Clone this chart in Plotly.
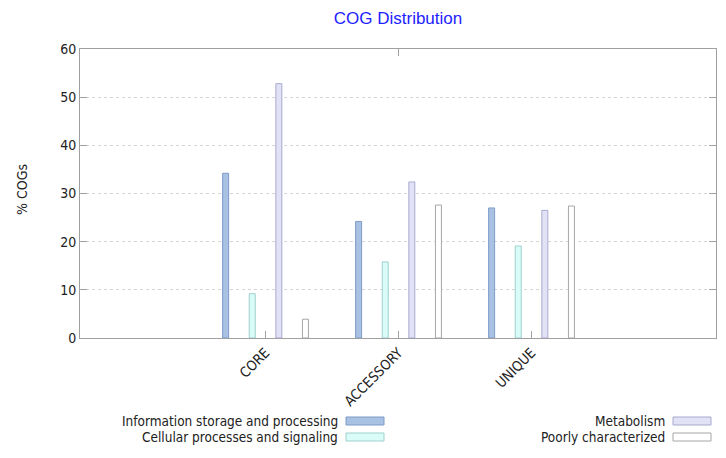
import plotly.graph_objects as go

categories = ["CORE", "ACCESSORY", "UNIQUE"]
series_names = ["Information storage and processing", "Cellular processes and signaling",
                "Metabolism", "Poorly characterized"]
info_vals = [34.2, 24.2, 27.0]
cell_vals = [9.2, 15.8, 19.1]
metab_vals = [52.8, 32.4, 26.5]
poor_vals = [3.9, 27.6, 27.4]
y_ticks = [0, 10, 20, 30, 40, 50, 60]

fills = ["#a9c1e3", "#d9fcf9", "#e2e2f6", "#ffffff"]
lines = ["#7d9bc8", "#9fd0cc", "#a9a9d0", "#a6a6a6"]
offsets = [-0.3, -0.1, 0.1, 0.3]
bw = 0.045
FONT = "DejaVu Sans Condensed, DejaVu Sans, sans-serif"

# page body has an 8px default margin: figure is shifted by (8, 8)
W, H = 718, 450
L, R, T, B = 72, 10, 41, 120

fig = go.Figure()
for name, vals, fc, lc, off in zip(series_names, [info_vals, cell_vals, metab_vals, poor_vals],
                                   fills, lines, offsets):
    fig.add_trace(go.Bar(x=categories, y=vals, name=name, width=bw, offset=off - bw / 2,
                         marker=dict(color=fc, line=dict(color=lc, width=1)),
                         showlegend=False))

fig.update_layout(
    width=W, height=H,
    margin=dict(l=L, r=R, t=T, b=B),
    paper_bgcolor="white", plot_bgcolor="white",
    barmode="overlay",
    title=dict(text="COG Distribution", x=390 / W, xanchor="center", y=1 - 10 / H,
               yanchor="middle", font=dict(family="Liberation Sans, Arial", size=17, color="#2222ff")),
    font=dict(family=FONT, size=14, color="#222222"),
)
fig.update_xaxes(range=[-1.395, 3.387], showline=True, linecolor="#a0a0a0", linewidth=1,
                 mirror=True, ticks="inside", ticklen=7, tickcolor="#a0a0a0",
                 tickangle=-45, tickfont=dict(family=FONT, size=14, color="#222222"),
                 showgrid=False, zeroline=False, automargin=False)
fig.update_yaxes(range=[0, 60], tickvals=y_ticks, showline=True, linecolor="#a0a0a0", linewidth=1,
                 mirror="ticks", ticks="inside", ticklen=7, tickcolor="#a0a0a0",
                 showgrid=True, gridcolor="#d4d4d4", griddash="dot", gridwidth=1,
                 zeroline=False, tickfont=dict(family=FONT, size=14, color="#222222"),
                 automargin=False)

# plot area in window pixels: x 80..716, y 49..338
def px2x(px):
    return (px - 80) / 636

def py2y(py):
    return (338 - py) / 289

# y-axis title
fig.add_annotation(x=px2x(22), y=py2y(190), xref="paper", yref="paper", text="% COGs",
                   textangle=-90, showarrow=False, xanchor="center", yanchor="middle",
                   font=dict(family=FONT, size=14, color="#222222"))

# single top mirror tick (as in the reference)
fig.add_shape(type="line", xref="x", yref="paper", x0=1, x1=1, y0=1, y1=1 - 7 / 289,
              line=dict(color="#a0a0a0", width=1))

# manual legend (gnuplot style: text right-aligned, swatch after)
legend_pos = [(340, 421), (340, 437), (667, 421), (667, 437)]
for name, fc, lc, (tx, ty) in zip(series_names, fills, lines, legend_pos):
    fig.add_annotation(x=px2x(tx), y=py2y(ty), xref="paper", yref="paper", text=name,
                       showarrow=False, xanchor="right", yanchor="middle",
                       font=dict(family=FONT, size=13.5, color="#222222"))
    fig.add_shape(type="rect", xref="paper", yref="paper",
                  x0=px2x(tx + 6), x1=px2x(tx + 44), y0=py2y(ty + 4), y1=py2y(ty - 4),
                  fillcolor=fc, line=dict(color=lc, width=1))

fig.write_html("out.html")
